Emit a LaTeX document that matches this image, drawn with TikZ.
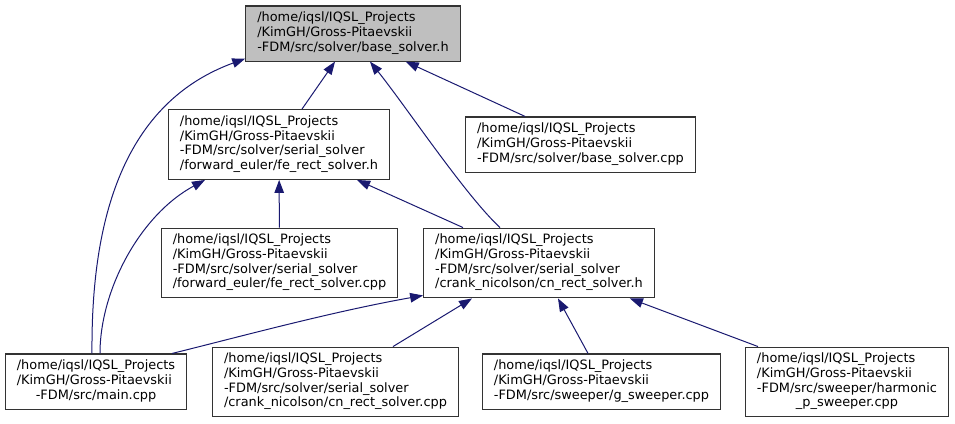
\documentclass[tikz,border=0pt]{standalone}
\usepackage{fontspec}
\setmainfont{DejaVu Sans}
\usetikzlibrary{arrows.meta}
\definecolor{edgeblue}{HTML}{191970}
\definecolor{boxgray}{HTML}{BFBFBF}
\newcommand{\incpath}[2]{\begin{tabular}{@{}l@{}}#1\\\multicolumn{1}{@{}c@{}}{#2}\end{tabular}}

\begin{document}
\begin{tikzpicture}[
  x=1pt, y=-1pt,
  file/.style={draw=black!80, line width=1.1pt, inner xsep=11.5pt, inner ysep=5.5pt,
    font=\fontsize{12.9}{14.7}\selectfont},
  incl/.style={edgeblue, line width=1pt, -{Triangle[length=13pt,width=9.5pt]}}
  ]

   \useasboundingbox (0,0) rectangle (955,423);

   \node (baseh) [file, fill=boxgray] at (353,33.5)
     {\incpath{/home/iqsl/IQSL\_Projects\\/KimGH/Gross-Pitaevskii}{-FDM/src/solver/base\_solver.h}};
   \node (feh) [file] at (279,144.5)
     {\incpath{/home/iqsl/IQSL\_Projects\\/KimGH/Gross-Pitaevskii\\-FDM/src/solver/serial\_solver}{/forward\_euler/fe\_rect\_solver.h}};
   \node (basecpp) [file] at (580.5,144.5)
     {\incpath{/home/iqsl/IQSL\_Projects\\/KimGH/Gross-Pitaevskii}{-FDM/src/solver/base\_solver.cpp}};
   \node (fecpp) [file] at (279.5,263)
     {\incpath{/home/iqsl/IQSL\_Projects\\/KimGH/Gross-Pitaevskii\\-FDM/src/solver/serial\_solver}{/forward\_euler/fe\_rect\_solver.cpp}};
   \node (cnh) [file] at (539,263)
     {\incpath{/home/iqsl/IQSL\_Projects\\/KimGH/Gross-Pitaevskii\\-FDM/src/solver/serial\_solver}{/crank\_nicolson/cn\_rect\_solver.h}};
   \node (main) [file] at (96,381.5)
     {\incpath{/home/iqsl/IQSL\_Projects\\/KimGH/Gross-Pitaevskii}{-FDM/src/main.cpp}};
   \node (cncpp) [file] at (335.5,382)
     {\incpath{/home/iqsl/IQSL\_Projects\\/KimGH/Gross-Pitaevskii\\-FDM/src/solver/serial\_solver}{/crank\_nicolson/cn\_rect\_solver.cpp}};
   \node (gsw) [file] at (601.5,381.5)
     {\incpath{/home/iqsl/IQSL\_Projects\\/KimGH/Gross-Pitaevskii}{-FDM/src/sweeper/g\_sweeper.cpp}};
   \node (harm) [file] at (847,382)
     {\incpath{/home/iqsl/IQSL\_Projects\\/KimGH/Gross-Pitaevskii\\-FDM/src/sweeper/harmonic}{\_p\_sweeper.cpp}};

   \draw [incl] ([xshift=-4pt]main.north) .. controls (91,230) and (118,105) .. ([yshift=3pt]baseh.south west);
   \draw [incl] ([xshift=4pt]main.north) .. controls (100,290) and (140,215) .. ([xshift=-74pt]feh.south);
   \draw [incl] ([xshift=-15pt]main.north east) .. controls (235,338) and (330,312) .. ([yshift=3pt]cnh.south west);
   \draw [incl] (fecpp) -- (feh);
   \draw [incl] ([xshift=-76pt]cnh.north) -- ([xshift=-33pt]feh.south east);
   \draw [incl] ([xshift=-39pt]cnh.north) .. controls (465,195) and (405,105) .. ([xshift=17pt]baseh.south);
   \draw [incl] ([xshift=23pt]feh.north) -- ([xshift=-18pt]baseh.south);
   \draw [incl] ([xshift=-55.5pt]basecpp.north) -- ([xshift=-55pt]baseh.south east);
   \draw [incl] ([xshift=57.5pt]cncpp.north) -- ([xshift=-67pt]cnh.south);
   \draw [incl] ([xshift=-13.5pt]gsw.north) -- ([xshift=19pt]cnh.south);
   \draw [incl] ([xshift=-89pt]harm.north) -- ([xshift=-25pt]cnh.south east);

\end{tikzpicture}
\end{document}
